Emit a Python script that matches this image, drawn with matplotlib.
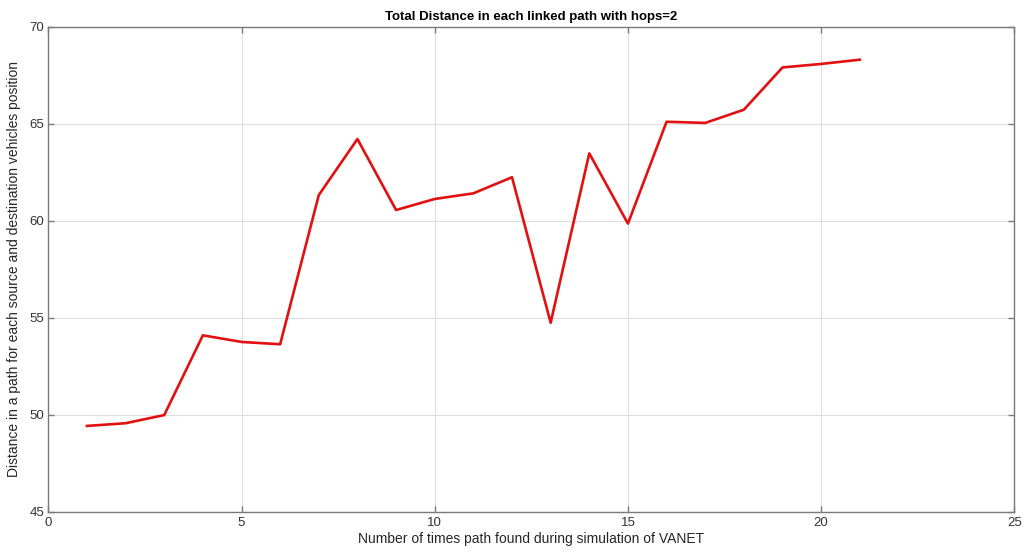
import matplotlib
matplotlib.use("Agg")
import matplotlib.pyplot as plt

# data
path_index = list(range(1, 22))
distance = [49.42, 49.56, 49.98, 54.09, 53.75, 53.63, 61.32, 64.21, 60.55, 61.12,
            61.41, 62.24, 54.74, 63.47, 59.85, 65.10, 65.04, 65.72, 67.90, 68.08, 68.30]

x_ticks = [0, 5, 10, 15, 20, 25]
y_ticks = [45, 50, 55, 60, 65, 70]

plt.rcParams['font.family'] = ['Liberation Sans', 'DejaVu Sans']

fig = plt.figure(figsize=(10.32, 5.54), dpi=100)
ax = fig.add_axes([0.0468, 0.0764, 0.9361, 0.8754])

ax.plot(path_index, distance, color='#e21010', linewidth=1.9)

ax.set_xlim(0, 25)
ax.set_ylim(45, 70)
ax.set_xticks(x_ticks)
ax.set_yticks(y_ticks)
ax.grid(True, color='#dedede', linewidth=0.8)
ax.set_axisbelow(True)

for s in ax.spines.values():
    s.set_color('#7a7a7a')
    s.set_linewidth(1.0)
ax.tick_params(direction='in', length=4, width=1.0, color='#7a7a7a',
               labelsize=9.5, labelcolor='#333333', top=True, right=True,
               labeltop=False, labelright=False)
ax.tick_params(axis='x', pad=4)
ax.tick_params(axis='y', pad=3)

ax.set_xlabel("Number of times path found during simulation of VANET",
              fontsize=10, color='#262626', labelpad=2)
ax.set_ylabel("Distance in a path for each source and destination vehicles position",
              fontsize=10, color='#262626', labelpad=6)
ax.set_title("Total Distance in each linked path with hops=2",
             fontsize=9.5, fontweight='bold', pad=5)

fig.savefig("out.png", dpi=100)
